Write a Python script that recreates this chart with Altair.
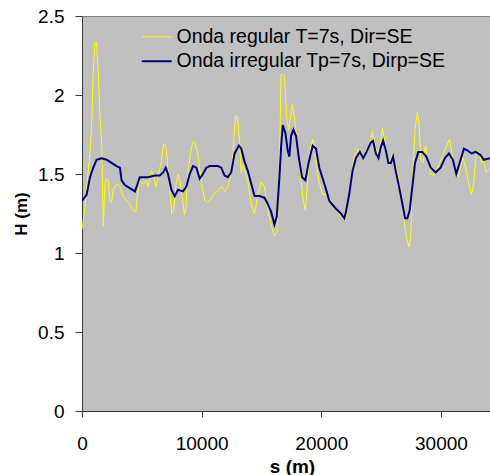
import altair as alt
import pandas as pd

# ---- data ----
series_names = ["Onda regular T=7s, Dir=SE", "Onda irregular Tp=7s, Dirp=SE"]
series_colors = ["#FFFF00", "#000080"]
series_widths = [1, 2]

s_regular = [0, 250, 390, 670, 810, 940, 1080, 1220, 1360, 1500, 1640, 1720, 1780, 1920, 2060, 2190,
             2330, 2470, 2610, 2890, 3170, 3440, 3860, 4280, 4500, 4610, 4830, 5110, 5390, 5530, 5780,
             5940, 6190, 6330, 6610, 6830, 7030, 7170, 7310, 7500, 7670, 7860, 8060, 8220, 8420, 8560,
             8690, 8830, 9060, 9250, 9440, 9670, 9890, 10080, 10280, 10500, 10780, 11060, 11330, 11440,
             11720, 11940, 12220, 12500, 12690, 12830, 13000, 13170, 13310, 13420, 13860, 14140, 14420,
             14670, 14970, 15250, 15530, 15810, 16080, 16280, 16440, 16560, 16640, 16920, 17110, 17280,
             17560, 17750, 18030, 18310, 18500, 18670, 18860, 19060, 19280, 19500, 19780, 20110, 20530,
             20810, 21220, 21640, 21920, 22060, 22330, 22560, 22750, 23030, 23220, 23440, 23720, 24000,
             24280, 24500, 24690, 24890, 25110, 25310, 25530, 25720, 25940, 26170, 26440, 26720, 26920,
             27110, 27330, 27470, 27610, 27830, 28030, 28170, 28310, 28500, 28720, 28860, 29140, 29420,
             29690, 30110, 30530, 30720, 30940, 31220, 31440, 31640, 31830, 32060, 32330, 32560, 32750,
             32940, 33170, 33390, 33580, 33780, 34100]
h_regular = [1.15, 1.29, 1.42, 1.63, 1.82, 2.14, 2.33, 2.33, 2.14, 1.86, 1.71, 1.40, 1.17, 1.44, 1.47, 1.46,
             1.33, 1.32, 1.40, 1.44, 1.42, 1.36, 1.32, 1.27, 1.26, 1.35, 1.46, 1.44, 1.46, 1.42, 1.52,
             1.50, 1.42, 1.48, 1.57, 1.69, 1.67, 1.54, 1.42, 1.25, 1.27, 1.44, 1.50, 1.44, 1.33, 1.24,
             1.29, 1.50, 1.63, 1.70, 1.70, 1.63, 1.50, 1.40, 1.33, 1.32, 1.34, 1.38, 1.39, 1.40,
             1.42, 1.39, 1.42, 1.52, 1.71, 1.87, 1.86, 1.71, 1.51, 1.56, 1.46, 1.31, 1.25,
             1.35, 1.45, 1.42, 1.27, 1.18, 1.11, 1.13, 1.35, 1.78, 2.13, 2.12, 1.86, 1.78,
             1.94, 1.86, 1.67, 1.46, 1.33, 1.27, 1.46, 1.65, 1.72, 1.65, 1.46, 1.37, 1.37,
             1.33, 1.27, 1.23, 1.21, 1.23, 1.35, 1.52, 1.61, 1.66, 1.62, 1.60, 1.64, 1.69,
             1.77, 1.68, 1.63, 1.67, 1.79, 1.71, 1.59, 1.58, 1.63, 1.57, 1.48, 1.35, 1.21,
             1.10, 1.04, 1.10, 1.46, 1.78, 1.89, 1.82, 1.59, 1.57, 1.68, 1.60, 1.50, 1.49,
             1.53, 1.61, 1.69, 1.72, 1.62, 1.52, 1.48, 1.54, 1.61, 1.54, 1.44, 1.37, 1.45,
             1.63, 1.64, 1.57, 1.58, 1.51, 1.53]

s_irregular = [0, 390, 670, 940, 1220, 1640, 2060, 2470, 2890, 3170, 3310, 3580, 4000, 4420, 4610, 4830,
               5530, 6080, 6500, 6780, 7000, 7190, 7470, 7750, 8030, 8440, 8720, 9000, 9280, 9560, 9830,
               10110, 10390, 10670, 11360, 11640, 11920, 12190, 12470, 12750, 13110, 13310, 13580, 13860,
               14140, 14420, 14830, 15250, 15530, 15810, 16080, 16280, 16500, 16640, 16780, 17000, 17190,
               17330, 17470, 17670, 17890, 18110, 18390, 18670, 18940, 19280, 19560, 19830, 20250, 20670,
               21220, 21640, 21920, 22060, 22330, 22610, 22890, 23220, 23500, 23780, 24140, 24330, 24560,
               24780, 24970, 25170, 25390, 25610, 25810, 26000, 26220, 26500, 26780, 27000, 27190, 27390,
               27610, 27830, 28110, 28440, 28780, 29140, 29560, 29970, 30330, 30670, 31000, 31280, 31560,
               31920, 32190, 32560, 32890, 33310, 33580, 34100]
h_irregular = [1.33, 1.37, 1.48, 1.54, 1.59, 1.60, 1.59, 1.57, 1.55, 1.54, 1.46, 1.43, 1.41, 1.39, 1.43, 1.48,
               1.48, 1.49, 1.49, 1.51, 1.54, 1.50, 1.40, 1.36, 1.40, 1.39, 1.42, 1.50, 1.55, 1.54, 1.47,
               1.50, 1.54, 1.55, 1.55, 1.54, 1.49, 1.48, 1.51, 1.63, 1.68, 1.66, 1.58, 1.52,
               1.44, 1.36, 1.36, 1.35, 1.31, 1.26, 1.18, 1.23, 1.48, 1.67, 1.81, 1.76, 1.65,
               1.61, 1.74, 1.78, 1.74, 1.61, 1.48, 1.46, 1.57, 1.68, 1.66, 1.54, 1.44, 1.33,
               1.28, 1.25, 1.22, 1.26, 1.37, 1.52, 1.60, 1.64, 1.60, 1.64, 1.70, 1.71, 1.63,
               1.60, 1.67, 1.71, 1.65, 1.57, 1.57, 1.61, 1.52, 1.42, 1.31, 1.22, 1.22, 1.27,
               1.42, 1.57, 1.64, 1.64, 1.61, 1.54, 1.51, 1.54, 1.60, 1.63, 1.59, 1.50, 1.57,
               1.66, 1.65, 1.63, 1.64, 1.62, 1.59, 1.60]

x_ticks = [0, 10000, 20000, 30000]
y_ticks = [0, 0.5, 1, 1.5, 2, 2.5]
x_domain = [0, 34100]
y_domain = [0, 2.5]

df_regular = pd.DataFrame({"s": s_regular, "H": h_regular, "serie": series_names[0]})
df_irregular = pd.DataFrame({"s": s_irregular, "H": h_irregular, "serie": series_names[1]})

FONT = "Liberation Sans"
AXIS_GRAY = "#3a3a3a"

legend = alt.Legend(
    title=None, orient="none", legendX=65, legendY=11, padding=0,
    symbolType="M-2,0H2", symbolSize=225, symbolOffset=0,
    labelOffset=10, labelFont=FONT, labelFontSize=19.5, labelColor="black",
    labelLimit=400, rowPadding=3.5,
)

color = alt.Color("serie:N", scale=alt.Scale(domain=series_names, range=series_colors), legend=legend)
width_enc = alt.StrokeWidth("serie:N", scale=alt.Scale(type="ordinal", domain=series_names, range=series_widths),
                            legend=legend)

x_scale = alt.Scale(domain=x_domain, nice=False, zero=False)
y_enc = alt.Y(
    "H:Q",
    scale=alt.Scale(domain=y_domain, nice=False),
    axis=alt.Axis(
        orient="left", values=y_ticks, format=".1~f", title="H (m)", grid=False,
        domain=True, domainColor=AXIS_GRAY, domainWidth=1, ticks=True,
        tickColor=AXIS_GRAY, tickWidth=1, tickSize=7, labelPadding=11, labelFlush=False,
        labelFont=FONT, labelFontSize=19, labelColor="black",
        titleFont=FONT, titleFontSize=17, titleFontWeight="bold", titleColor="black",
        titleX=-61, titleY=197.5, titleBaseline="middle", titleAlign="center", titleAngle=270,
    ),
)

reg_line = alt.Chart(df_regular).mark_line(clip=True).encode(
    x=alt.X("s:Q", scale=x_scale, axis=alt.Axis(
        orient="bottom", values=x_ticks, format="d", title="s (m)", grid=False,
        domain=True, domainColor=AXIS_GRAY, domainWidth=1, ticks=True,
        tickColor=AXIS_GRAY, tickWidth=1, tickSize=6, labelPadding=17, labelFlush=False,
        labelFont=FONT, labelFontSize=19, labelColor="black",
        titleFont=FONT, titleFontSize=19, titleFontWeight="bold", titleColor="black",
        titleX=210, titleY=55, titleBaseline="middle", titleAlign="center",
    )),
    y=y_enc,
    color=color,
    strokeWidth=width_enc,
)

irr_line = alt.Chart(df_irregular).mark_line(clip=True).encode(
    x=alt.X("s:Q", scale=x_scale, axis=alt.Axis(
        orient="top", labels=False, ticks=False, title=None, grid=False,
        domain=True, domainColor="#808080", domainWidth=1,
    )),
    y=y_enc,
    color=color,
    strokeWidth=width_enc,
)

chart = alt.layer(reg_line, irr_line).properties(
    width=408,
    height=395,
    padding={"left": 82, "top": 16, "right": 0, "bottom": 64},
    autosize=alt.AutoSizeParams(type="none"),
    background="white",
).configure_view(
    fill="#C0C0C0", stroke="transparent"
).configure_axis(grid=False)

chart.save("out.html", embed_options={"renderer": "svg", "actions": False})
